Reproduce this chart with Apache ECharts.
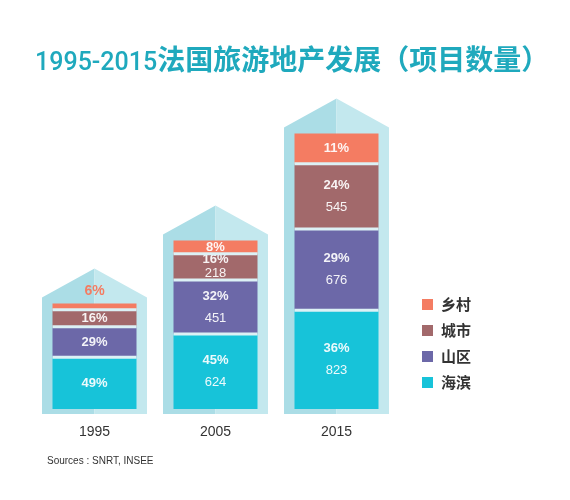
<!DOCTYPE html>
<html>
<head>
<meta charset="utf-8">
<script src="https://cdn.jsdelivr.net/npm/echarts@6/dist/echarts.min.js"></script>
<style>html,body{margin:0;padding:0;background:#fff}#c{width:570px;height:500px}</style>
</head>
<body>
<div id="c"></div>
<script>
// ---- data ----
const years = ['1995', '2005', '2015'];
const seriesNames = ['海滨', '山区', '城市', '乡村']; // bottom to top
const seaside  = [431, 624, 823];
const mountain = [255, 451, 676];
const city     = [141, 218, 545];
const rural    = [53, 111, 252];
const seasidePct  = [49, 45, 36];
const mountainPct = [29, 32, 29];
const cityPct     = [16, 16, 24];
const ruralPct    = [6, 8, 11];
const countShown  = [false, true, true]; // counts printed in picture
const legendOrder = ['乡村', '城市', '山区', '海滨'];

const colors = {
  '海滨': '#17c3d9',
  '山区': '#6c68a8',
  '城市': '#a2696b',
  '乡村': '#f47c62'
};
const values = { '海滨': seaside, '山区': mountain, '城市': city, '乡村': rural };
const pcts = { '海滨': seasidePct, '山区': mountainPct, '城市': cityPct, '乡村': ruralPct };
const totals = years.map((_, i) => seaside[i] + mountain[i] + city[i] + rural[i]);
const boundaries = years.map((_, i) => [
  i,
  seaside[i],
  seaside[i] + mountain[i],
  seaside[i] + mountain[i] + city[i]
]);

const FONT = '"Liberation Sans", Arial, "Noto Sans CJK SC", sans-serif';
const BAR_W = 84;

const chart = echarts.init(document.getElementById('c'));

function labelFor(name, i) {
  const showCount = countShown[i] && name !== '乡村';
  const base = {
    show: true,
    position: 'inside',
    fontFamily: FONT,
    color: 'rgba(255,255,255,0.92)',
    formatter: showCount ? '{p|' + pcts[name][i] + '%}\n{v|' + values[name][i] + '}' : '{p|' + pcts[name][i] + '%}',
    rich: {
      p: { fontSize: 13, fontWeight: 'bold', color: 'rgba(255,255,255,0.92)', fontFamily: FONT, lineHeight: 22 },
      v: { fontSize: 13, color: 'rgba(255,255,255,0.92)', fontFamily: FONT, lineHeight: 22 }
    }
  };
  if (name === '城市' && i === 1) {
    base.rich.p.lineHeight = 14;
    base.rich.v.lineHeight = 14;
  }
  if (name === '乡村' && i === 0) {
    base.position = 'top';
    base.distance = 1;
    base.rich.p.color = '#f47c62';
    base.rich.p.fontSize = 14;
  }
  return base;
}

const barSeries = seriesNames.map(name => ({
  name: name,
  type: 'bar',
  stack: 'total',
  barWidth: BAR_W,
  z: 3,
  itemStyle: { color: colors[name], borderWidth: 0 },
  data: values[name].map((v, i) => ({ value: v, label: labelFor(name, i) })),
  emphasis: { disabled: true }
}));

const houseSeries = {
  type: 'custom',
  z: 1,
  silent: true,
  data: totals.map((t, i) => [i, t]),
  renderItem: function (params, api) {
    const i = api.value(0);
    const top = api.coord([i, api.value(1)]);
    const base = api.coord([i, 0]);
    const cx = top[0];
    const hw = BAR_W / 2 + 10.5;
    const eave = top[1] - 6;
    const apex = eave - 29;
    const bottom = base[1] + 5;
    return {
      type: 'group',
      children: [
        { type: 'polygon', shape: { points: [[cx - hw, bottom], [cx - hw, eave], [cx, apex], [cx, bottom]] }, style: { fill: '#abdde6' } },
        { type: 'polygon', shape: { points: [[cx, bottom], [cx, apex], [cx + hw, eave], [cx + hw, bottom]] }, style: { fill: '#c3e8ee' } }
      ]
    };
  }
};

// thin light separators between stacked segments
const gapSeries = {
  type: 'custom',
  z: 5,
  silent: true,
  data: boundaries,
  renderItem: function (params, api) {
    const i = api.value(0);
    const children = [];
    for (let k = 1; k <= 3; k++) {
      const p = api.coord([i, api.value(k)]);
      children.push({
        type: 'rect',
        shape: { x: p[0] - BAR_W / 2, y: p[1] - 1.5, width: BAR_W, height: 3 },
        style: { fill: '#dcf1f5' }
      });
    }
    return { type: 'group', children: children };
  }
};

chart.setOption({
  animation: false,
  backgroundColor: '#ffffff',
  title: [
    {
      text: '{a|1995-2015}{b|法国旅游地产发展（项目数量）}',
      left: 30,
      top: 38,
      textStyle: {
        rich: {
          a: { color: '#1fa9bd', fontSize: 25, fontWeight: 500, fontFamily: 'Roboto, "Liberation Sans", sans-serif', padding: [8, 0, 0, 0] },
          b: { color: '#1fa9bd', fontSize: 28, fontWeight: 'bold', fontFamily: '"Noto Sans CJK SC", sans-serif' }
        }
      }
    },
    {
      text: 'Sources : SNRT, INSEE',
      left: 42,
      top: 451,
      textStyle: { color: '#333', fontSize: 10, fontWeight: 'normal', fontFamily: FONT }
    }
  ],
  legend: {
    data: legendOrder,
    orient: 'vertical',
    left: 417,
    top: 292,
    itemWidth: 11,
    itemHeight: 11,
    itemGap: 11,
    icon: 'rect',
    selectedMode: false,
    itemStyle: { borderWidth: 0 },
    textStyle: { color: '#333', fontSize: 15, fontWeight: 'bold', fontFamily: '"Noto Sans CJK SC", sans-serif', padding: [0, 0, 0, 3] }
  },
  grid: { left: 34, right: 173, top: 49, bottom: 91 },
  xAxis: {
    type: 'category',
    data: years,
    axisLine: { show: false },
    axisTick: { show: false },
    axisLabel: { color: '#333', fontSize: 14, fontFamily: FONT, margin: 16 }
  },
  yAxis: {
    type: 'value',
    min: 0,
    max: 3000,
    show: false,
    splitLine: { show: false }
  },
  series: [houseSeries].concat(barSeries).concat([gapSeries])
});
</script>
</body>
</html>
